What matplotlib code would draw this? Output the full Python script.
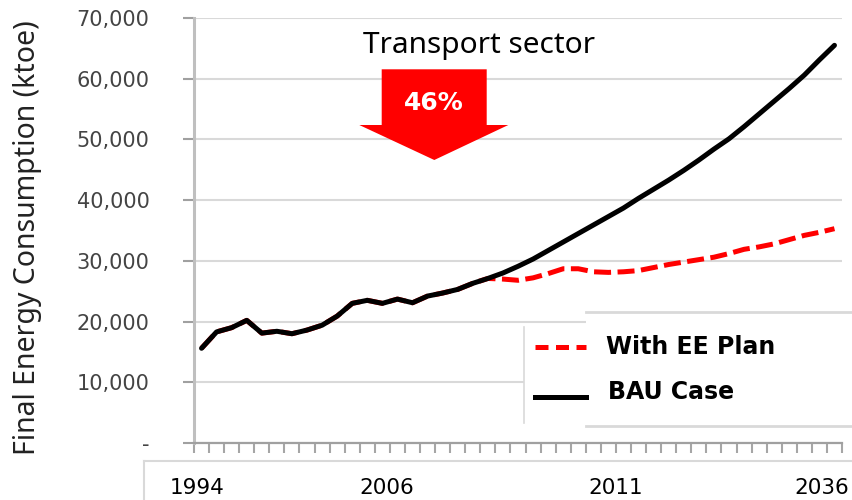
import matplotlib
matplotlib.use('Agg')
import matplotlib.pyplot as plt
from matplotlib.patches import Polygon, Rectangle
from matplotlib.lines import Line2D
from matplotlib.ticker import FuncFormatter, MultipleLocator

# ---------------- data ----------------
years = list(range(1994, 2037))
bau_case = [15600, 18300, 19000, 20200, 18100, 18400, 18000, 18600, 19400, 20900,
            23000, 23500, 23000, 23700, 23100, 24200, 24700, 25300, 26300, 27100,
            28000, 29100, 30300, 31700, 33100, 34500, 35900, 37300, 38700, 40300,
            41800, 43300, 44900, 46600, 48400, 50100, 52100, 54200, 56300, 58400,
            60600, 63100, 65500]
with_ee_plan = [15600, 18300, 19000, 20200, 18100, 18400, 18000, 18600, 19400, 20900,
                23000, 23500, 23000, 23700, 23100, 24200, 24700, 25300, 26300, 27100,
                27000, 26800, 27200, 27900, 28700, 28700, 28200, 28100, 28200, 28400,
                28900, 29400, 29800, 30200, 30600, 31200, 31900, 32300, 32800, 33500,
                34200, 34700, 35300]
year_labels = ['1994', '2006', '2011', '2036']
series_names = ['With EE Plan', 'BAU Case']
title_text = 'Transport sector'
arrow_text = '46%'
y_title = 'Final Energy Consumption (ktoe)'

# ---------------- figure ----------------
W, H = 852, 500
fig = plt.figure(figsize=(W / 100, H / 100), dpi=100)
fig.patch.set_facecolor('white')

def fx(px):
    return px / W

def fy(py):
    return 1 - py / H

ax = fig.add_axes([fx(194), fy(443), fx(842) - fx(194), fy(18) - fy(443)])
idx = list(range(len(years)))
ax.plot(idx, with_ee_plan, color='#ff0000', lw=3.6, dashes=(3.4, 1.3), zorder=3)
ax.plot(idx, bau_case, color='black', lw=3.6, zorder=4, solid_capstyle='round')

ax.set_xlim(-0.5, len(years) - 0.5)
ax.set_ylim(0, 70000)
ax.yaxis.set_major_locator(MultipleLocator(10000))
ax.yaxis.set_major_formatter(FuncFormatter(lambda v, p: '-' if v == 0 else f'{int(v):,}'))
ax.grid(axis='y', color='#d9d9d9', lw=1.5, zorder=0)
ax.set_axisbelow(True)
for s in ['top', 'right']:
    ax.spines[s].set_visible(False)
ax.spines['left'].set_color('#bfbfbf')
ax.spines['left'].set_linewidth(2.2)
ax.spines['bottom'].set_color('#a0a0a0')
ax.spines['bottom'].set_linewidth(1.6)
ax.tick_params(axis='y', direction='out', length=8, width=1.5, color='#a0a0a0',
               pad=24, labelsize=15, labelcolor='#444444')
ax.set_xticks([i - 0.5 for i in range(len(years) + 1)])
ax.tick_params(axis='x', direction='out', length=7.5, width=1.5, color='#a6a6a6',
               labelbottom=False)

# y title
fig.text(fx(28), fy(238), y_title, rotation=90, ha='center', va='center',
         fontsize=20.5, color='#222222', family='Noto Sans')

# category label band
fig.add_artist(Line2D([fx(144), 1], [fy(461), fy(461)], color='#d9d9d9', lw=1.5))
fig.add_artist(Line2D([fx(144), fx(144)], [fy(461), 0], color='#d9d9d9', lw=1.5))
label_x = [197, 387, 616, 822]
for lab, px in zip(year_labels, label_x):
    fig.text(fx(px), fy(488), lab, ha='center', va='center', fontsize=15.5, color='black')

# title text and arrow
fig.text(fx(479), fy(45), title_text, ha='center', va='center', fontsize=21.5,
         family='Noto Sans', color='black')
pts = [(381.7, 69.3), (486.7, 69.3), (486.7, 125), (508.3, 125), (434.3, 160),
       (359.3, 125), (381.7, 125)]
fig.add_artist(Polygon([(fx(x), fy(y)) for x, y in pts], closed=True,
                       facecolor='#ff0000', edgecolor='none',
                       transform=fig.transFigure))
fig.text(fx(434), fy(103), arrow_text, ha='center', va='center', fontsize=18,
         fontweight='bold', color='white')

# legend boxes
fig.add_artist(Rectangle((fx(524), fy(423)), fx(600) - fx(524), fy(327) - fy(423),
                         facecolor='white', edgecolor='none',
                         transform=fig.transFigure))
fig.add_artist(Line2D([fx(524), fx(524)], [fy(423), fy(327)], color='#d9d9d9', lw=1.2))
fig.add_artist(Rectangle((fx(586), fy(425.7)), 1 - fx(586), fy(311.7) - fy(425.7),
                         facecolor='white', edgecolor='none', transform=fig.transFigure))
for yy in (311.7, 425.7):
    fig.add_artist(Line2D([fx(586), 1], [fy(yy), fy(yy)], color='#d9d9d9', lw=2))
fig.add_artist(Line2D([fx(535), fx(586)], [fy(346.7), fy(346.7)], color='#ff0000',
                      lw=3.6, dashes=(2.6, 1.5)))
fig.add_artist(Line2D([fx(535), fx(586)], [fy(396.7), fy(396.7)], color='black', lw=3.6))
fig.text(fx(606), fy(346.7), series_names[0], ha='left', va='center', fontsize=17,
         fontweight='bold', color='black')
fig.text(fx(607.7), fy(392), series_names[1], ha='left', va='center', fontsize=17,
         fontweight='bold', color='black')

fig.savefig('out.png', dpi=100, facecolor='white')
